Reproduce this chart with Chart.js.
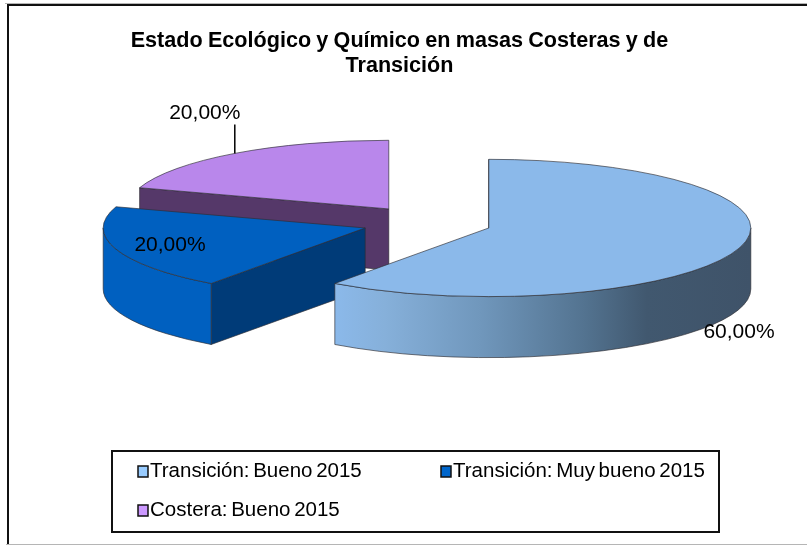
<!DOCTYPE html>
<html>
<head>
<meta charset="utf-8">
<style>
    html, body { margin: 0; padding: 0; background: #fff; }
    #wrap { width: 807px; height: 545px; }
</style>
<script src="https://cdn.jsdelivr.net/npm/chart.js@4"></script>
</head>
<body>
<div id="wrap"><canvas id="pieChart" width="807" height="545"></canvas></div>
<script>
// datos de la gráfica
const categories = ['Transición: Bueno 2015', 'Transición: Muy bueno 2015', 'Costera: Bueno 2015'];
const values = [60, 20, 20];
const titleLines = ['Estado Ecológico y Químico en masas Costeras y de', 'Transición'];

// colores de cada porción
const topColors = ['#8bb9ea', '#0060c0', '#b987eb'];
const cutColors = ['#3f556d', '#003b78', '#553869'];
const legendColors = ['#99ccff', '#0066cc', '#cc99ff'];

// perspectiva del pastel
const pieCenterX = 427;
const pieCenterY = 222.7;
const pieRadius = 262;
const flatten = 0.262;
const explode = 65;
const depth = 61;
const edgeColor = 'rgba(45, 45, 50, 0.65)';

// etiquetas relativas al punto medio del borde de cada porción
const labelShift = [[1, 83], [54, -4], [-30, -40]];
const legendSlots = [[138, 466], [441, 466], [138, 505]];

function formatPercent(v) {
    return v.toFixed(2).replace('.', ',') + '%';
}

// centro de la porción ya desplazada, en pantalla
function sliceApex(arc) {
    const mid = (arc.startAngle + arc.endAngle) / 2;
    return {
        x: pieCenterX + Math.cos(mid) * explode,
        y: pieCenterY + Math.sin(mid) * explode * flatten,
        mid: mid
    };
}

function drawWalls(ctx, arc, i) {
    const apex = sliceApex(arc);
    const rx = arc.outerRadius;
    const ry = arc.outerRadius * flatten;

    // cara del corte
    const sx = apex.x + Math.cos(arc.startAngle) * rx;
    const sy = apex.y + Math.sin(arc.startAngle) * ry;
    ctx.beginPath();
    ctx.moveTo(apex.x, apex.y);
    ctx.lineTo(sx, sy);
    ctx.lineTo(sx, sy + depth);
    ctx.lineTo(apex.x, apex.y + depth);
    ctx.closePath();
    ctx.fillStyle = cutColors[i];
    ctx.fill();
    ctx.strokeStyle = edgeColor;
    ctx.lineWidth = 1;
    ctx.stroke();

    // pared exterior, solo la parte que mira al frente
    const a0 = Math.max(arc.startAngle, 0);
    const a1 = Math.min(arc.endAngle, Math.PI);
    if (a1 <= a0) return;
    ctx.beginPath();
    ctx.ellipse(apex.x, apex.y, rx, ry, 0, a0, a1);
    ctx.ellipse(apex.x, apex.y + depth, rx, ry, 0, a1, a0, true);
    ctx.closePath();
    if (i === 0) {
        const left = apex.x + Math.cos(a1) * rx;
        const grad = ctx.createLinearGradient(left, 0, apex.x + rx, 0);
        grad.addColorStop(0, '#8bb9ea');
        grad.addColorStop(0.12, '#86b0da');
        grad.addColorStop(0.35, '#7097bc');
        grad.addColorStop(0.6, '#537390');
        grad.addColorStop(0.75, '#41586f');
        grad.addColorStop(1, '#3f5369');
        ctx.fillStyle = grad;
    } else {
        ctx.fillStyle = topColors[i];
    }
    ctx.fill();
    ctx.stroke();
}

function drawTop(ctx, arc) {
    const apex = sliceApex(arc);
    ctx.save();
    ctx.translate(apex.x, apex.y);
    ctx.scale(1, flatten);
    ctx.translate(-arc.x, -arc.y);
    arc.draw(ctx);
    ctx.restore();

    ctx.beginPath();
    ctx.moveTo(apex.x, apex.y);
    ctx.ellipse(apex.x, apex.y, arc.outerRadius, arc.outerRadius * flatten, 0, arc.startAngle, arc.endAngle);
    ctx.closePath();
    ctx.strokeStyle = edgeColor;
    ctx.lineWidth = 1;
    ctx.stroke();
}

const pie3d = {
    id: 'pie3d',
    beforeDraw(chart) {
        const ctx = chart.ctx;
        ctx.save();
        ctx.fillStyle = '#ffffff';
        ctx.fillRect(0, 0, chart.width, chart.height);
        // marco exterior, abierto a la derecha
        ctx.fillStyle = '#b5b5b5';
        ctx.fillRect(5, 3, chart.width - 5, 1);
        ctx.fillRect(6, 544, chart.width - 6, 1);
        ctx.fillStyle = '#111111';
        ctx.fillRect(7, 4, chart.width - 7, 2);
        ctx.fillRect(7, 4, 2, 540);
        ctx.restore();
        // el título original tiene los espacios más estrechos
        ctx.wordSpacing = '-0.75px';
    },
    beforeDatasetDraw(chart, args) {
        const ctx = chart.ctx;
        const arcs = args.meta.data;
        ctx.save();
        // de atrás hacia adelante
        [2, 1, 0].forEach(i => {
            drawWalls(ctx, arcs[i], i);
            drawTop(ctx, arcs[i]);
        });
        ctx.restore();
        return false;
    },
    afterDraw(chart) {
        const ctx = chart.ctx;
        const arcs = chart.getDatasetMeta(0).data;
        ctx.save();

        // etiquetas de datos
        ctx.font = '21px "Liberation Sans", Arial, sans-serif';
        ctx.fillStyle = '#000000';
        ctx.textAlign = 'center';
        ctx.textBaseline = 'middle';
        arcs.forEach((arc, i) => {
            const apex = sliceApex(arc);
            const rimX = apex.x + Math.cos(apex.mid) * arc.outerRadius;
            const rimY = apex.y + Math.sin(apex.mid) * arc.outerRadius * flatten;
            ctx.fillText(formatPercent(values[i]), rimX + labelShift[i][0], rimY + labelShift[i][1]);
            if (i === 2) {
                // línea guía
                ctx.strokeStyle = '#000000';
                ctx.lineWidth = 1.5;
                ctx.beginPath();
                ctx.moveTo(rimX, rimY);
                ctx.lineTo(rimX, rimY - 29);
                ctx.stroke();
            }
        });

        // leyenda
        ctx.strokeStyle = '#111111';
        ctx.lineWidth = 2;
        ctx.strokeRect(112, 451, 607, 81);
        ctx.font = '20.5px "Liberation Sans", Arial, sans-serif';
        ctx.textAlign = 'left';
        ctx.wordSpacing = '-2px';
        categories.forEach((name, i) => {
            const x = legendSlots[i][0];
            const y = legendSlots[i][1];
            ctx.fillStyle = legendColors[i];
            ctx.fillRect(x, y, 10, 11);
            ctx.strokeStyle = '#111111';
            ctx.lineWidth = 1.5;
            ctx.strokeRect(x, y, 10, 11);
            ctx.fillStyle = '#000000';
            ctx.fillText(name, x + 12, y + 5);
        });
        ctx.restore();
    }
};

new Chart(document.getElementById('pieChart'), {
    type: 'pie',
    data: {
        labels: categories,
        datasets: [{
            data: values,
            backgroundColor: topColors,
            borderWidth: 0,
            radius: pieRadius
        }]
    },
    options: {
        responsive: false,
        animation: false,
        layout: { padding: { right: 8 } },
        plugins: {
            legend: { display: false },
            tooltip: { enabled: false },
            title: {
                display: true,
                text: titleLines,
                color: '#000000',
                font: { family: '"Liberation Sans", Arial, sans-serif', size: 21.6, weight: 'bold', lineHeight: 1.13 },
                padding: { top: 29, bottom: 0 }
            }
        }
    },
    plugins: [pie3d]
});
</script>
</body>
</html>
